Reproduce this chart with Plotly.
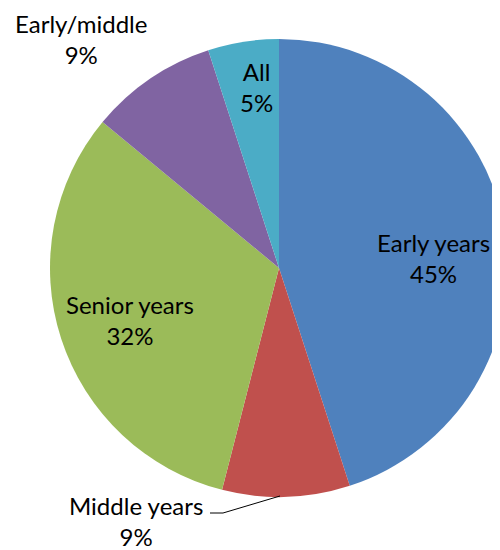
import plotly.graph_objects as go

categories = ["Early years", "Middle years", "Senior years", "Early/middle", "All"]
values = [45, 9, 32, 9, 5]
colors = ["#4F81BD", "#C0504D", "#9BBB59", "#8064A2", "#4BACC6"]

# the page body adds an 8px offset; layout positions below are in figure pixels
OFF = 8
# label centres (x, y from top) as seen on screen
label_pos = [(433, 258), (136, 521), (130, 320), (81, 39), (256, 87)]

W, H = 500, 550

# pie: centre (279, 268) on screen, radius 229
cx, cy, r = 279 - OFF, 268 - OFF, 229

fig = go.Figure(go.Pie(
    labels=categories,
    values=values,
    sort=False,
    direction="clockwise",
    rotation=0,
    marker=dict(colors=colors, line=dict(width=0)),
    textinfo="none",
    hoverinfo="label+percent",
    domain=dict(x=[(cx - r) / W, min(1.0, (cx + r) / W)],
                y=[(H - (cy + r)) / H, (H - (cy - r)) / H]),
    showlegend=False,
))

annotations = []
for cat, val, (px, py) in zip(categories, values, label_pos):
    annotations.append(dict(
        text=f"{cat}<br>{val}%",
        x=(px - OFF) / W, y=1 - (py - OFF) / H,
        xref="paper", yref="paper",
        xanchor="center", yanchor="middle",
        showarrow=False,
        font=dict(family="Lato", size=24, color="black"),
    ))

# leader line for "Middle years"
pts = [(210, 513), (223, 513), (280, 496)]
path = "M " + " L ".join(f"{(x - OFF) / W},{1 - (y - OFF) / H}" for x, y in pts)
fig.update_layout(
    width=W, height=H,
    margin=dict(l=0, r=0, t=0, b=0),
    paper_bgcolor="white",
    plot_bgcolor="white",
    annotations=annotations,
    shapes=[dict(type="path", path=path, xref="paper", yref="paper",
                 line=dict(color="black", width=1))],
)

fig.write_html("out.html")
